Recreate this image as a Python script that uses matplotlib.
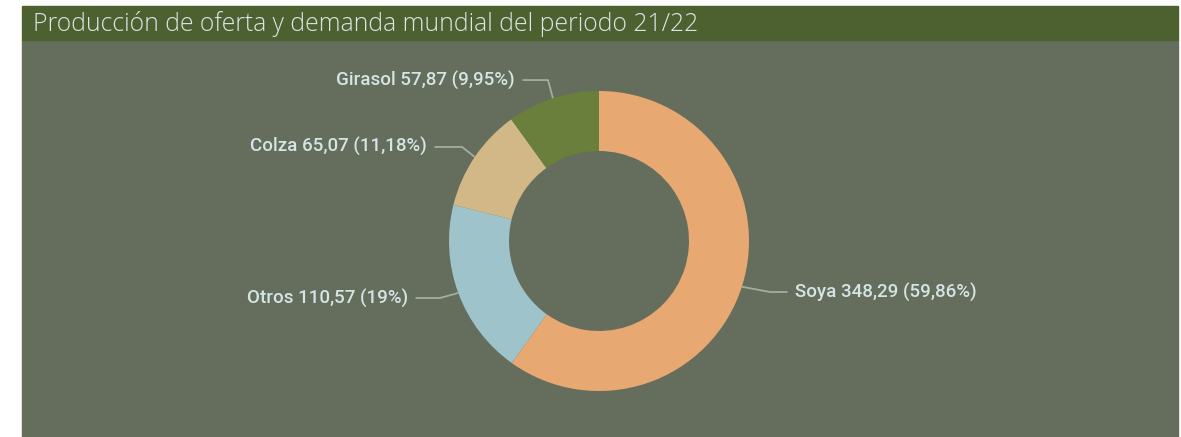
import numpy as np
import matplotlib.pyplot as plt
from matplotlib.patches import Rectangle

# datos
cultivos = ['Soya', 'Otros', 'Colza', 'Girasol']
produccion = [348.29, 110.57, 65.07, 57.87]
porcentajes = ['59,86%', '19%', '11,18%', '9,95%']
valores_txt = ['348,29', '110,57', '65,07', '57,87']
colores = ['#e8a872', '#9fc3ca', '#d2b887', '#6a7f3b']

W, H = 1181, 437
fig = plt.figure(figsize=(W / 100, H / 100), dpi=100, facecolor='white')

# panel y barra de titulo
fig.patches.append(Rectangle((22 / W, 0), (1178 - 22) / W, (437 - 40) / H,
                             transform=fig.transFigure, color='#656e5c', zorder=-2))
fig.patches.append(Rectangle((22 / W, (437 - 40) / H), (1178 - 22) / W, 34 / H,
                             transform=fig.transFigure, color='#4d6130', zorder=-2))
fig.text(33 / W, (437 - 24) / H, 'Producción de oferta y demanda mundial del periodo 21/22',
         color='#d8e6e6', fontsize=17.8, family='Open Sans', fontweight='light',
         va='center', ha='left')

cx, cy, r = 599, 241, 150
ax = fig.add_axes([(cx - r) / W, (H - cy - r) / H, 2 * r / W, 2 * r / H])
ax.set_aspect('equal')
ax.patch.set_visible(False)
wedges, _ = ax.pie(produccion, colors=colores, startangle=90, counterclock=False,
                   radius=1, wedgeprops=dict(width=0.4, linewidth=0))
ax.set_xlim(-1, 1)
ax.set_ylim(-1, 1)
ax.axis('off')

# posiciones de etiquetas (x texto, y texto, x codo, lado)
pos = {
    'Soya': (1.307, -0.34, 1.14, 'left'),
    'Otros': (-1.273, -0.38, -1.06, 'right'),
    'Colza': (-1.147, 0.627, -0.913, 'right'),
    'Girasol': (-0.56, 1.073, -0.34, 'right'),
}

for w, name, v, p in zip(wedges, cultivos, valores_txt, porcentajes):
    ang = np.deg2rad((w.theta1 + w.theta2) / 2)
    ax_, ay_ = 1.0 * np.cos(ang), 1.0 * np.sin(ang)
    tx, ty, ex, side = pos[name]
    gap = 0.05 if side == 'left' else -0.05
    ax.plot([ax_, ex, tx - gap], [ay_, ty, ty], color='#a3ada3', lw=1.3,
            clip_on=False, solid_capstyle='butt')
    ax.text(tx, ty, f'{name} {v} ({p})', ha=side, va='center', color='#d5e4e4',
            fontsize=13.5, family='Roboto', fontweight='medium', clip_on=False)

fig.savefig('out.png', dpi=100, facecolor='white')
